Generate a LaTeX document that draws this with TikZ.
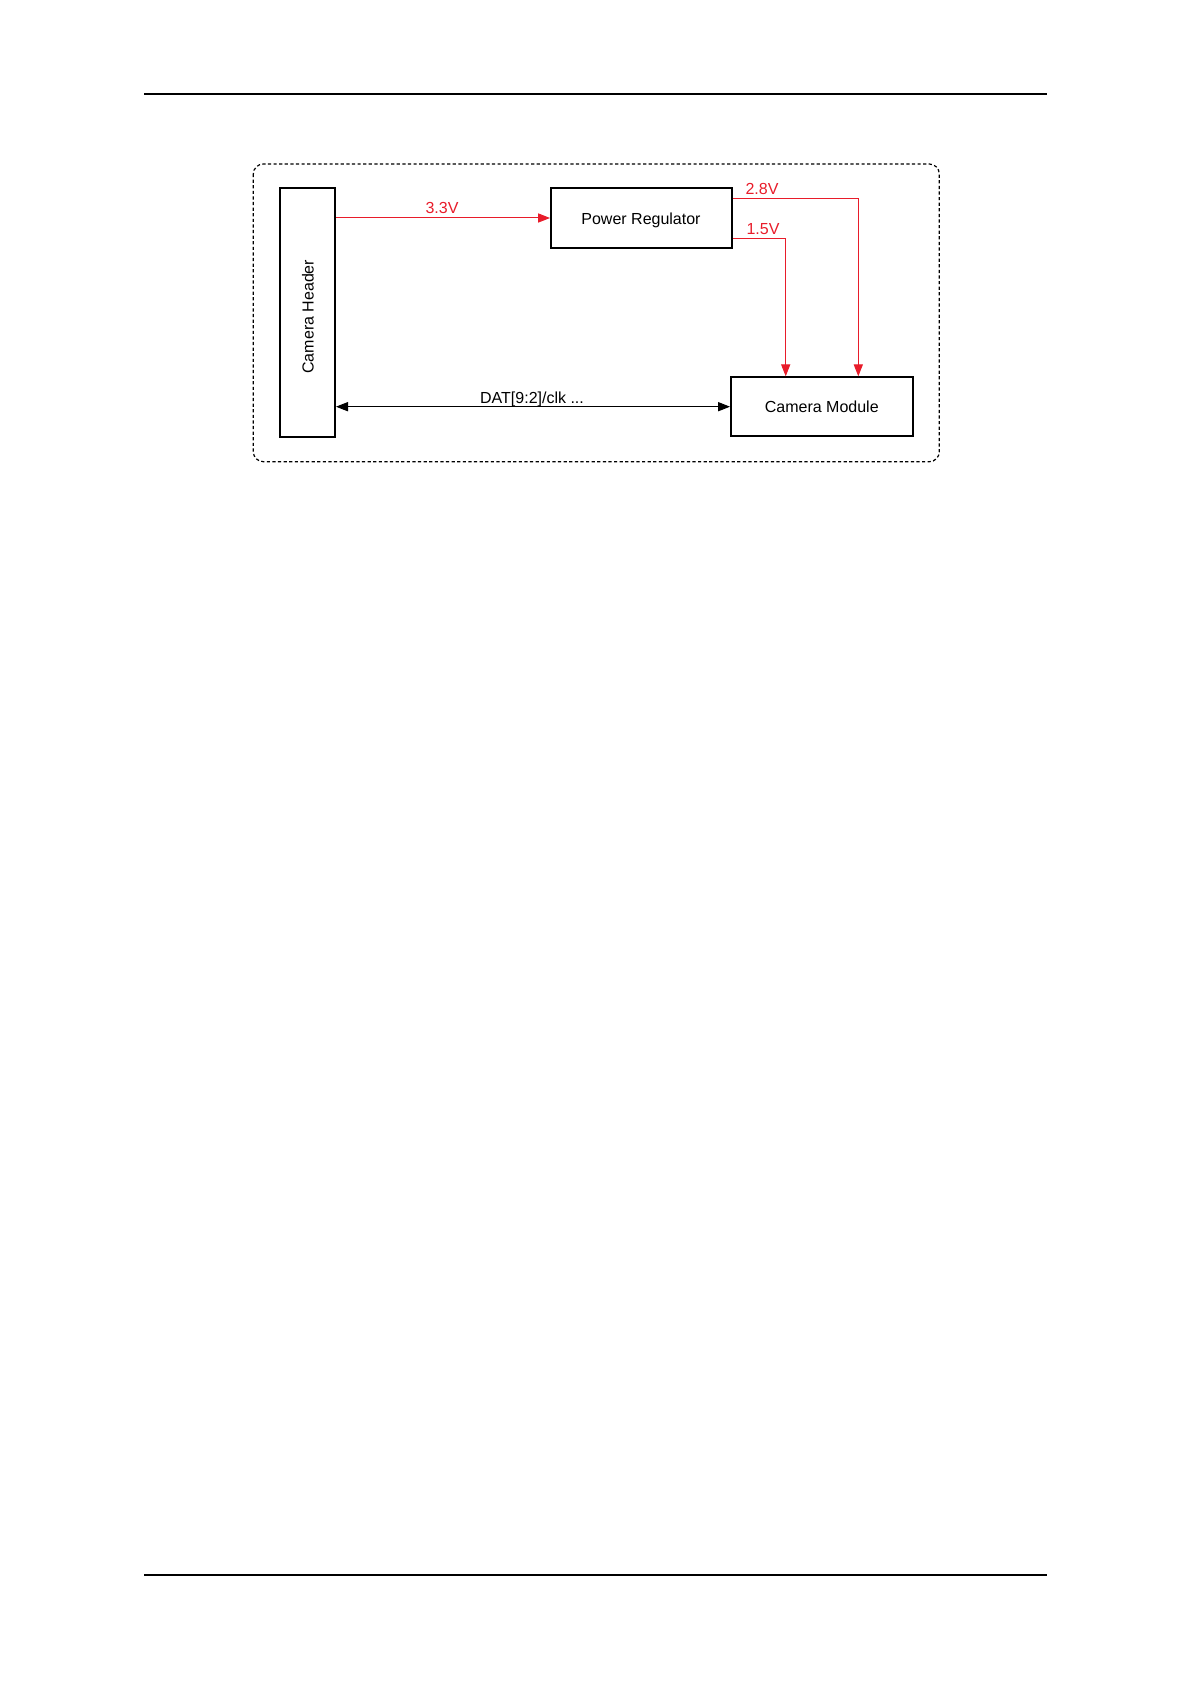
\documentclass[tikz,border=0pt]{standalone}
\usepackage{fontspec}
\setmainfont{Liberation Sans}
\usetikzlibrary{arrows.meta}
\definecolor{pwr}{RGB}{232,28,42}
\begin{document}
\begin{tikzpicture}[x=0.5pt,y=-0.5pt,
  font=\fontsize{8}{10}\selectfont,
  blk/.style={draw=black, line width=1pt, inner sep=0pt, fill=white},
  pline/.style={draw=pwr, line width=0.5pt, -{Triangle[length=6pt,width=4.6pt]}},
  dline/.style={draw=black, line width=0.5pt, {Triangle[length=6pt,width=4.6pt]}-{Triangle[length=6pt,width=4.6pt]}},
  plab/.style={text=pwr, inner sep=0pt, anchor=base},
  dlab/.style={text=black, inner sep=0pt, anchor=base},
  frame/.style={draw=black, line width=0.6pt, dash pattern=on 1.6pt off 1.2pt, rounded corners=5pt},
  rule/.style={draw=black, line width=0.65pt}]
\useasboundingbox (0,0) rectangle (1191,1684);
% page rules
\draw[rule] (144,94) -- (1047,94);
\draw[rule] (144,1575) -- (1047,1575);
% dashed frame
\draw[frame] (253.3,164) rectangle (939.3,461.7);
% blocks
\node[blk, minimum width=27.5pt, minimum height=124.2pt] (CH) at (307.5,312.5) {};
\node[rotate=90, inner sep=0pt] (CHt) at (308,316.7) {Camera Header};
\node[blk, minimum width=90.3pt, minimum height=29.7pt] (PR) at (641.3,218) {};
\node[dlab] (PRt) at (641,224.3) {Power Regulator};
\node[blk, minimum width=90.8pt, minimum height=29.4pt] (CM) at (821.8,406.7) {};
\node[dlab] (CMt) at (821.8,412.7) {Camera Module};
% connectors
\coordinate (t28) at (858.3,198.3);
\coordinate (t15) at (785.7,238.3);
\draw[pline] (CH.east |- PR.west) -- (PR.west);
\draw[pline] (PR.east |- t28) -- (t28) -- (t28 |- CM.north);
\draw[pline] (PR.east |- t15) -- (t15) -- (t15 |- CM.north);
\draw[dline] (CH.east |- CM.west) -- (CM.west);
% labels
\node[plab] (l33) at (442,214) {3.3V};
\node[plab] (l28) at (762,194.3) {2.8V};
\node[plab] (l15) at (763,235) {1.5V};
\node[dlab] (ldat) at (532,403.3) {DAT[9:2]/clk ...};
\end{tikzpicture}
\end{document}
